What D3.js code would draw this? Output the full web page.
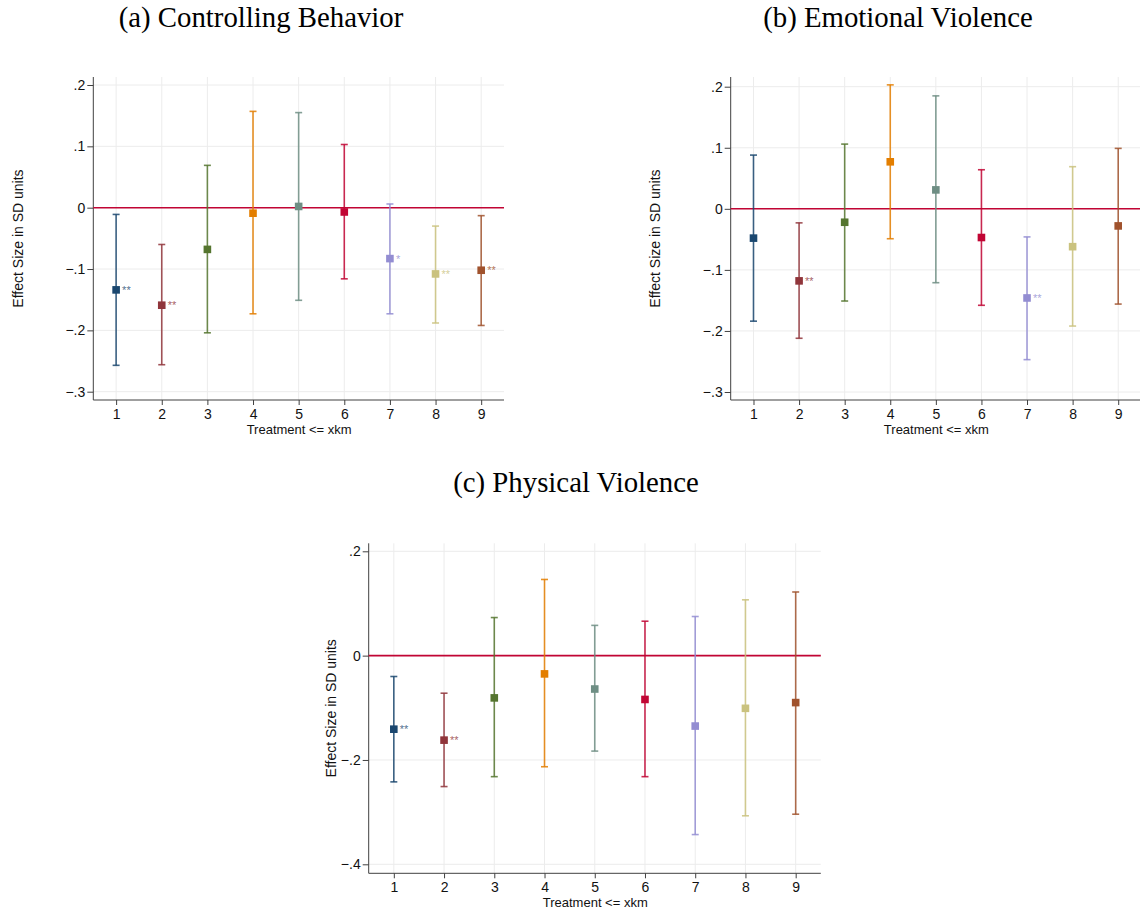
<!DOCTYPE html>
<html lang="en">
<head>
  <meta charset="UTF-8" />
  <title>Effect sizes by treatment distance</title>
  <script src="https://d3js.org/d3.v7.min.js"></script>
  <style>
    body {
      margin: 0;
      background: #fff;
    }
    svg {
      display: block;
    }
    .title {
      font-family: "Liberation Serif", "Times New Roman", serif;
      font-size: 28.8px;
      fill: #000;
    }
    .axis-title {
      font-family: "Liberation Sans", Arial, sans-serif;
      font-size: 13px;
      fill: #111;
    }
    .y-title {
      font-size: 14px;
    }
    .stars {
      font-family: "Liberation Sans", Arial, sans-serif;
      font-size: 11px;
    }
  </style>
</head>
<body>
  <svg></svg>

  <script>
    const categories = [1, 2, 3, 4, 5, 6, 7, 8, 9];
    const colors = ["#1a476f", "#90353b", "#55752f", "#e37e00", "#6e8e84",
                    "#c10534", "#938dd2", "#cac27e", "#a0522d"];

    // (a) Controlling Behavior
    const ctrlEst = [-0.134, -0.159, -0.068, -0.009, 0.002, -0.007, -0.083, -0.108, -0.102];
    const ctrlLo  = [-0.257, -0.256, -0.204, -0.173, -0.151, -0.116, -0.173, -0.188, -0.192];
    const ctrlHi  = [-0.011, -0.060, 0.069, 0.157, 0.155, 0.103, 0.006, -0.030, -0.013];
    const ctrlStars = ["**", "**", "", "", "", "", "*", "**", "**"];

    // (b) Emotional Violence
    const emoEst = [-0.048, -0.118, -0.022, 0.077, 0.031, -0.047, -0.146, -0.062, -0.028];
    const emoLo  = [-0.184, -0.212, -0.151, -0.049, -0.121, -0.158, -0.247, -0.192, -0.156];
    const emoHi  = [0.088, -0.023, 0.106, 0.203, 0.185, 0.064, -0.046, 0.069, 0.099];
    const emoStars = ["", "**", "", "", "", "", "**", "", ""];

    // (c) Physical Violence
    const physEst = [-0.141, -0.162, -0.081, -0.035, -0.064, -0.084, -0.135, -0.101, -0.090];
    const physLo  = [-0.242, -0.251, -0.232, -0.213, -0.183, -0.232, -0.343, -0.307, -0.304];
    const physHi  = [-0.040, -0.072, 0.073, 0.146, 0.058, 0.066, 0.075, 0.107, 0.122];
    const physStars = ["**", "**", "", "", "", "", "", "", ""];

    const ticksAB = [-0.3, -0.2, -0.1, 0, 0.1, 0.2];
    const ticksC = [-0.4, -0.2, 0, 0.2];

    const xTitle = "Treatment <= xkm";
    const yTitle = "Effect Size in SD units";

    const width = 1140;
    const height = 913;

    const svg = d3.select("svg")
      .attr("width", width)
      .attr("height", height);

    // layout of each panel (pixels)
    const panels = [
      {
        title: "(a) Controlling Behavior", titleX: 261, titleY: 27,
        est: ctrlEst, lo: ctrlLo, hi: ctrlHi, stars: ctrlStars, ticks: ticksAB,
        left: 93.3, right: 504, top: 77, bottom: 400,
        yLo: -0.3, yLoPx: 391.7, yHi: 0.2, yHiPx: 85,
        yTitleX: 18
      },
      {
        title: "(b) Emotional Violence", titleX: 898, titleY: 27,
        est: emoEst, lo: emoLo, hi: emoHi, stars: emoStars, ticks: ticksAB,
        left: 730.7, right: 1141, top: 77, bottom: 400,
        yLo: -0.3, yLoPx: 392, yHi: 0.2, yHiPx: 86.7,
        yTitleX: 655
      },
      {
        title: "(c) Physical Violence", titleX: 576, titleY: 492,
        est: physEst, lo: physLo, hi: physHi, stars: physStars, ticks: ticksC,
        left: 368.7, right: 820.8, top: 543.3, bottom: 873.3,
        yLo: -0.4, yLoPx: 864.3, yHi: 0.2, yHiPx: 551.3,
        yTitleX: 331
      }
    ];

    const fmt = d => d === 0 ? "0" : d3.format(".1f")(d).replace("0.", ".");

    panels.forEach(p => {
      const g = svg.append("g");

      const x = d3.scaleLinear().domain([0.5, 9.5]).range([p.left, p.right]);
      const y = d3.scaleLinear().domain([p.yLo, p.yHi]).range([p.yLoPx, p.yHiPx]);

      g.append("text")
        .attr("class", "title")
        .attr("x", p.titleX)
        .attr("y", p.titleY)
        .attr("text-anchor", "middle")
        .text(p.title);

      // grid
      g.selectAll(".hgrid")
        .data(p.ticks)
        .enter().append("line")
        .attr("x1", p.left).attr("x2", p.right)
        .attr("y1", d => y(d)).attr("y2", d => y(d))
        .attr("stroke", "#ececec").attr("stroke-width", 1);

      g.selectAll(".vgrid")
        .data(categories)
        .enter().append("line")
        .attr("x1", d => x(d)).attr("x2", d => x(d))
        .attr("y1", p.top).attr("y2", p.bottom)
        .attr("stroke", "#ececec").attr("stroke-width", 1);

      // axes
      const yAxis = d3.axisLeft(y).tickValues(p.ticks).tickFormat(fmt).tickSize(6).tickPadding(2);
      const yg = g.append("g").attr("transform", `translate(${p.left},0)`).call(yAxis);
      yg.select(".domain").remove();
      yg.append("line")
        .attr("x1", 0).attr("x2", 0)
        .attr("y1", p.top).attr("y2", p.bottom)
        .attr("stroke", "#404040");

      const xAxis = d3.axisBottom(x).tickValues(categories).tickFormat(d3.format("d")).tickSize(5).tickPadding(4);
      const xg = g.append("g").attr("transform", `translate(0,${p.bottom})`).call(xAxis);
      xg.select(".domain").remove();
      xg.append("line")
        .attr("x1", p.left).attr("x2", p.right)
        .attr("y1", 0).attr("y2", 0)
        .attr("stroke", "#404040");

      [yg, xg].forEach(a => {
        a.selectAll(".tick line").attr("stroke", "#404040");
        a.selectAll(".tick text")
          .attr("fill", "#111")
          .style("font-family", "'Liberation Sans', Arial, sans-serif")
          .style("font-size", "14px");
      });

      // zero line
      g.append("line")
        .attr("x1", p.left).attr("x2", p.right)
        .attr("y1", y(0)).attr("y2", y(0))
        .attr("stroke", "#c10534").attr("stroke-width", 1.6);

      g.append("text")
        .attr("class", "axis-title")
        .attr("x", (p.left + p.right) / 2 + 0.5)
        .attr("y", p.bottom + 34)
        .attr("text-anchor", "middle")
        .text(xTitle);

      g.append("text")
        .attr("class", "axis-title y-title")
        .attr("transform", `translate(${p.yTitleX + 5},${(p.top + p.bottom) / 2}) rotate(-90)`)
        .attr("text-anchor", "middle")
        .text(yTitle);

      // error bars + markers
      const rows = categories.map((c, i) => ({
        c, est: p.est[i], lo: p.lo[i], hi: p.hi[i], star: p.stars[i], color: colors[i]
      }));

      const bars = g.selectAll(".bar")
        .data(rows)
        .enter().append("g");

      bars.append("line")
        .attr("x1", d => x(d.c)).attr("x2", d => x(d.c))
        .attr("y1", d => y(d.lo)).attr("y2", d => y(d.hi))
        .attr("stroke", d => d.color).attr("stroke-width", 1.6)
        .attr("stroke-opacity", 0.85);

      ["lo", "hi"].forEach(k => {
        bars.append("line")
          .attr("x1", d => x(d.c) - 3.5).attr("x2", d => x(d.c) + 3.5)
          .attr("y1", d => y(d[k])).attr("y2", d => y(d[k]))
          .attr("stroke", d => d.color).attr("stroke-width", 1.6)
          .attr("stroke-opacity", 0.85);
      });

      bars.append("rect")
        .attr("x", d => x(d.c) - 3.8)
        .attr("y", d => y(d.est) - 3.8)
        .attr("width", 7.6).attr("height", 7.6)
        .attr("fill", d => d.color);

      bars.append("text")
        .attr("class", "stars")
        .attr("x", d => x(d.c) + 6)
        .attr("y", d => y(d.est) + 4)
        .attr("fill", d => d.color)
        .attr("fill-opacity", 0.8)
        .text(d => d.star);
    });
  </script>
</body>
</html>
